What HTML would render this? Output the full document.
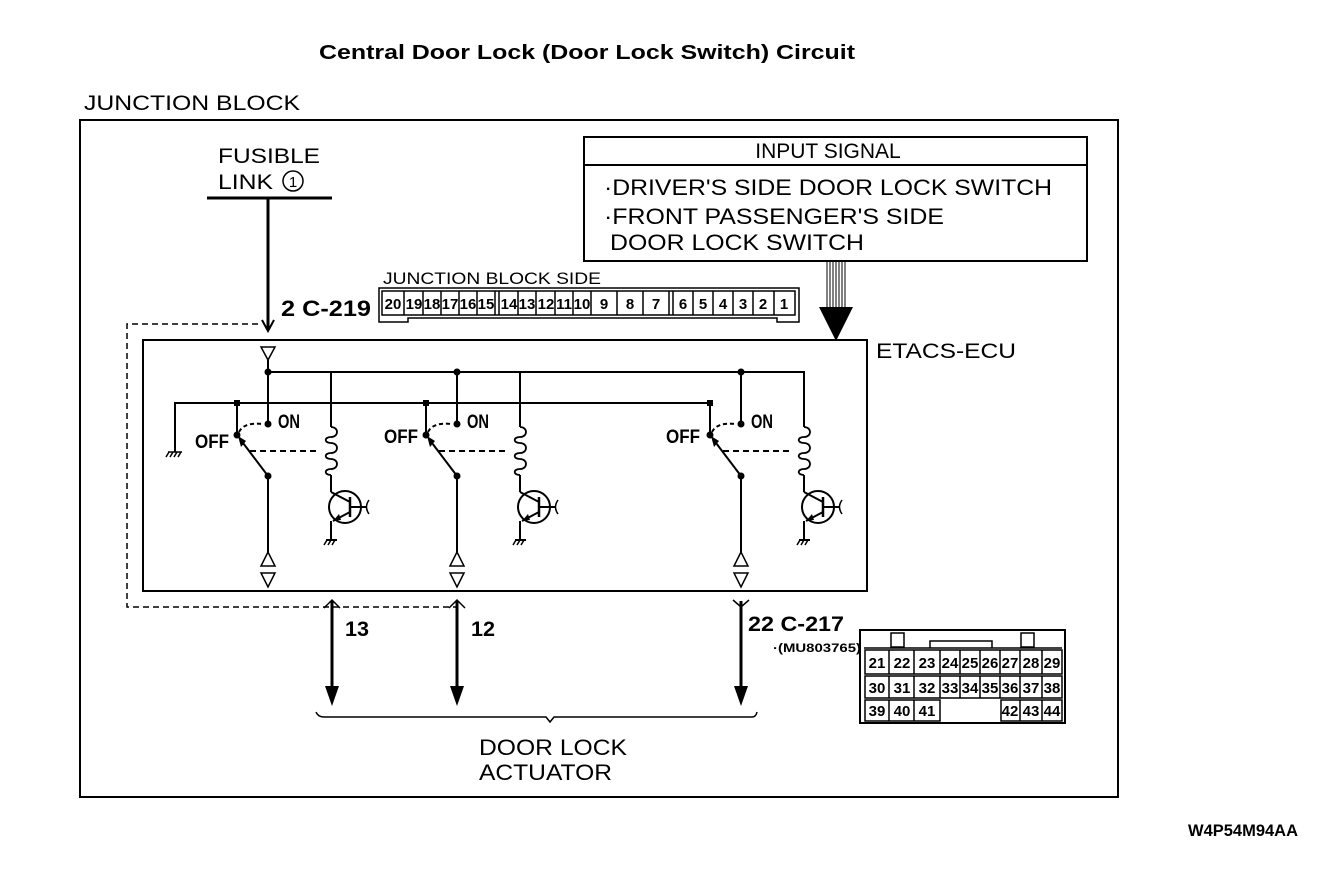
<!DOCTYPE html>
<html><head><meta charset="utf-8"><style>
html,body{margin:0;padding:0;background:#fff}
svg{display:block}
text{font-family:"Liberation Sans",sans-serif;fill:#000}
.b{font-weight:bold}
</style></head><body>
<svg width="1344" height="878" viewBox="0 0 1344 878" xmlns="http://www.w3.org/2000/svg">
<defs>
<g id="grp" stroke="#000" stroke-width="2" fill="none">
  <line x1="0" y1="372" x2="0" y2="424"/>
  <circle cx="0" cy="372" r="3.5" fill="#000" stroke="none"/>
  <circle cx="0" cy="424" r="3.5" fill="#000" stroke="none"/>
  <line x1="-31" y1="403" x2="-31" y2="435"/>
  <rect x="-34" y="400" width="6" height="6" fill="#000" stroke="none"/>
  <circle cx="-31" cy="435" r="3.5" fill="#000" stroke="none"/>
  <path d="M-29,432 Q-24,422 -6,424" stroke-dasharray="4,3"/>
  <line x1="-28" y1="439" x2="0" y2="476"/>
  <polygon points="-30,436 -22,441 -27,447" fill="#000" stroke="none"/>
  <line x1="-18" y1="451" x2="52" y2="451" stroke-dasharray="6,4"/>
  <circle cx="0" cy="476" r="3.5" fill="#000" stroke="none"/>
  <line x1="0" y1="476" x2="0" y2="552"/>
  <polygon points="0,552 -7,566 7,566" stroke-width="1.5"/>
  <polygon points="-7,573 7,573 0,587" stroke-width="1.5"/>
  <line x1="63" y1="372" x2="63" y2="427"/>
  <path d="M63,427 c8,0 8,10 0,10 c-7,0 -7,6 0,6 c8,0 8,10 0,10 c-7,0 -7,6 0,6 c8,0 8,10 0,10 c-7,0 -7,6 0,6" stroke-width="1.8"/>
  <line x1="63" y1="475" x2="63" y2="492"/>
  <circle cx="77" cy="507" r="16"/>
  <line x1="63" y1="492" x2="82" y2="502"/>
  <line x1="82" y1="497" x2="82" y2="517" stroke-width="2.5"/>
  <line x1="82" y1="512" x2="65" y2="521"/>
  <polygon points="65,521 71,514 73,520" fill="#000" stroke="none"/>
  <line x1="82" y1="507" x2="98" y2="507"/>
  <path d="M101,500 Q96,507 101,514" stroke-width="1.5"/>
  <line x1="63" y1="521" x2="63" y2="540"/>
  <line x1="58" y1="540" x2="69" y2="540"/>
  <path d="M59,540 l-3,5 M63,540 l-3,5 M67,540 l-3,5" stroke-width="1.5"/>
</g>
</defs>

<text x="319" y="59" class="b" font-size="20" textLength="536" lengthAdjust="spacingAndGlyphs">Central Door Lock (Door Lock Switch) Circuit</text>
<text x="84" y="110" font-size="21" textLength="216" lengthAdjust="spacingAndGlyphs">JUNCTION BLOCK</text>
<rect x="80" y="120" width="1038" height="677" fill="none" stroke="#000" stroke-width="2"/>

<text x="218" y="163" font-size="21" textLength="102" lengthAdjust="spacingAndGlyphs">FUSIBLE</text>
<text x="218" y="189" font-size="21" textLength="55" lengthAdjust="spacingAndGlyphs">LINK</text>
<circle cx="293" cy="181" r="10" fill="none" stroke="#000" stroke-width="1.5"/>
<text x="293" y="187" font-size="15" text-anchor="middle">1</text>
<line x1="207" y1="198" x2="332" y2="198" stroke="#000" stroke-width="3"/>
<line x1="268" y1="198" x2="268" y2="330" stroke="#000" stroke-width="3"/>
<path d="M262,320 L268,331 L274,320" fill="none" stroke="#000" stroke-width="2"/>
<text x="281" y="316" class="b" font-size="22" textLength="90" lengthAdjust="spacingAndGlyphs">2  C-219</text>

<text x="383" y="284" font-size="17" textLength="218" lengthAdjust="spacingAndGlyphs">JUNCTION BLOCK SIDE</text>
<path d="M379,288 H799 V322 H777 V318 H408 V322 H379 Z" fill="none" stroke="#000" stroke-width="1.5"/>
<rect x="382" y="291" width="413" height="24" fill="none" stroke="#000" stroke-width="1.5"/>
<g stroke="#000" stroke-width="1.5">
<line x1="404" y1="291" x2="404" y2="315"/><line x1="423" y1="291" x2="423" y2="315"/><line x1="441" y1="291" x2="441" y2="315"/><line x1="459" y1="291" x2="459" y2="315"/><line x1="477" y1="291" x2="477" y2="315"/><line x1="495" y1="291" x2="495" y2="315"/><line x1="499" y1="291" x2="499" y2="315"/>
<line x1="518" y1="291" x2="518" y2="315"/><line x1="536" y1="291" x2="536" y2="315"/><line x1="555" y1="291" x2="555" y2="315"/><line x1="573" y1="291" x2="573" y2="315"/><line x1="591" y1="291" x2="591" y2="315"/>
<line x1="617" y1="291" x2="617" y2="315"/><line x1="643" y1="291" x2="643" y2="315"/><line x1="669" y1="291" x2="669" y2="315"/><line x1="673" y1="291" x2="673" y2="315"/>
<line x1="693" y1="291" x2="693" y2="315"/><line x1="713" y1="291" x2="713" y2="315"/><line x1="733" y1="291" x2="733" y2="315"/><line x1="753" y1="291" x2="753" y2="315"/><line x1="774" y1="291" x2="774" y2="315"/>
</g>
<g class="b" font-size="15" text-anchor="middle">
<text x="393" y="309">20</text><text x="414" y="309">19</text><text x="432" y="309">18</text><text x="450" y="309">17</text><text x="468" y="309">16</text><text x="486" y="309">15</text>
<text x="509" y="309">14</text><text x="527" y="309">13</text><text x="546" y="309">12</text><text x="564" y="309">11</text><text x="582" y="309">10</text>
<text x="604" y="309">9</text><text x="630" y="309">8</text><text x="656" y="309">7</text>
<text x="683" y="309">6</text><text x="703" y="309">5</text><text x="723" y="309">4</text><text x="743" y="309">3</text><text x="763" y="309">2</text><text x="784" y="309">1</text>
</g>

<rect x="584" y="137" width="503" height="124" fill="none" stroke="#000" stroke-width="2"/>
<line x1="584" y1="165" x2="1087" y2="165" stroke="#000" stroke-width="2"/>
<text x="828" y="158" font-size="21" text-anchor="middle">INPUT SIGNAL</text>
<text x="604" y="195" font-size="22" textLength="448" lengthAdjust="spacingAndGlyphs">·DRIVER'S SIDE DOOR LOCK SWITCH</text>
<text x="604" y="224" font-size="22" textLength="340" lengthAdjust="spacingAndGlyphs">·FRONT PASSENGER'S SIDE</text>
<text x="610" y="250" font-size="22" textLength="254" lengthAdjust="spacingAndGlyphs">DOOR LOCK SWITCH</text>
<g stroke="#000" stroke-width="1">
<line x1="827" y1="262" x2="827" y2="308"/><line x1="830" y1="262" x2="830" y2="308"/><line x1="833" y1="262" x2="833" y2="308"/><line x1="836" y1="262" x2="836" y2="308"/><line x1="839" y1="262" x2="839" y2="308"/><line x1="842" y1="262" x2="842" y2="308"/><line x1="845" y1="262" x2="845" y2="308"/>
</g>
<polygon points="819,307 853,307 836,341" fill="#000"/>

<rect x="143" y="340" width="724" height="251" fill="none" stroke="#000" stroke-width="2"/>
<text x="876" y="358" font-size="21" textLength="140" lengthAdjust="spacingAndGlyphs">ETACS-ECU</text>
<path d="M258,324 H127 V607 H457" fill="none" stroke="#000" stroke-width="1.5" stroke-dasharray="6,4"/>
<polygon points="261,347 275,347 268,360" fill="none" stroke="#000" stroke-width="1.5"/>
<line x1="268" y1="360" x2="268" y2="372" stroke="#000" stroke-width="2"/>
<path d="M268,372 H804 V427" fill="none" stroke="#000" stroke-width="2"/>
<path d="M175,452 V403 H710 V435" fill="none" stroke="#000" stroke-width="2"/>
<path d="M168,452 H182 M169,452 l-3,5 M173,452 l-3,5 M177,452 l-3,5 M181,452 l-3,5" stroke="#000" stroke-width="1.5"/>
<use href="#grp" x="268"/>
<use href="#grp" x="457"/>
<use href="#grp" x="741"/>
<g class="b" font-size="19">
<text x="278" y="428" textLength="22" lengthAdjust="spacingAndGlyphs">ON</text>
<text x="195" y="448" textLength="34" lengthAdjust="spacingAndGlyphs">OFF</text>
<text x="467" y="428" textLength="22" lengthAdjust="spacingAndGlyphs">ON</text>
<text x="384" y="443" textLength="34" lengthAdjust="spacingAndGlyphs">OFF</text>
<text x="751" y="428" textLength="22" lengthAdjust="spacingAndGlyphs">ON</text>
<text x="666" y="443" textLength="34" lengthAdjust="spacingAndGlyphs">OFF</text>
</g>

<g stroke="#000" fill="none">
<line x1="332" y1="601" x2="332" y2="690" stroke-width="3"/>
<line x1="457" y1="601" x2="457" y2="690" stroke-width="3"/>
<line x1="741" y1="601" x2="741" y2="690" stroke-width="3"/>
<path d="M324,608 L332,600 L340,608" stroke-width="1.5"/>
<path d="M449,608 L457,600 L465,608" stroke-width="1.5"/>
<path d="M733,600 L741,607 L749,600" stroke-width="1.5"/>
<path d="M316,712 Q318,717 324,717 H546 L550,722 L554,717 H752 Q756,717 757,712" stroke-width="1.5"/>
</g>
<polygon points="325,686 339,686 332,706" fill="#000"/>
<polygon points="450,686 464,686 457,706" fill="#000"/>
<polygon points="734,686 748,686 741,706" fill="#000"/>
<g class="b" font-size="21">
<text x="345" y="636" textLength="24" lengthAdjust="spacingAndGlyphs">13</text>
<text x="471" y="636" textLength="24" lengthAdjust="spacingAndGlyphs">12</text>
<text x="748" y="631" textLength="96" lengthAdjust="spacingAndGlyphs">22 C-217</text>
</g>
<text x="773" y="652" class="b" font-size="12" textLength="88" lengthAdjust="spacingAndGlyphs">·(MU803765)</text>
<text x="479" y="755" font-size="22" textLength="148" lengthAdjust="spacingAndGlyphs">DOOR LOCK</text>
<text x="479" y="780" font-size="22" textLength="133" lengthAdjust="spacingAndGlyphs">ACTUATOR</text>

<g stroke="#000" fill="none" stroke-width="1.5">
<rect x="860" y="630" width="205" height="93" stroke-width="2"/>
<rect x="891" y="633" width="13" height="14"/>
<rect x="1021" y="633" width="13" height="14"/>
<path d="M930,648 V641 H992 V648"/>
<path d="M864,648 H1062"/>
<rect x="865" y="650" width="197" height="24"/>
<rect x="865" y="676" width="197" height="22"/>
<rect x="865" y="700" width="75" height="21"/>
<rect x="1001" y="700" width="61" height="21"/>
<path d="M889,650 V674 M914,650 V674 M940,650 V674 M960,650 V674 M980,650 V674 M1000,650 V674 M1020,650 V674 M1042,650 V674"/>
<path d="M889,676 V698 M914,676 V698 M940,676 V698 M960,676 V698 M980,676 V698 M1000,676 V698 M1020,676 V698 M1042,676 V698"/>
<path d="M889,700 V721 M914,700 V721 M1020,700 V721 M1042,700 V721"/>
</g>
<g class="b" font-size="15" text-anchor="middle">
<text x="877" y="668">21</text><text x="902" y="668">22</text><text x="927" y="668">23</text><text x="950" y="668">24</text><text x="970" y="668">25</text><text x="990" y="668">26</text><text x="1010" y="668">27</text><text x="1031" y="668">28</text><text x="1052" y="668">29</text>
<text x="877" y="693">30</text><text x="902" y="693">31</text><text x="927" y="693">32</text><text x="950" y="693">33</text><text x="970" y="693">34</text><text x="990" y="693">35</text><text x="1010" y="693">36</text><text x="1031" y="693">37</text><text x="1052" y="693">38</text>
<text x="877" y="716">39</text><text x="902" y="716">40</text><text x="927" y="716">41</text><text x="1010" y="716">42</text><text x="1031" y="716">43</text><text x="1052" y="716">44</text>
</g>

<text x="1188" y="836" class="b" font-size="17" textLength="110" lengthAdjust="spacingAndGlyphs">W4P54M94AA</text>
</svg>
</body></html>
